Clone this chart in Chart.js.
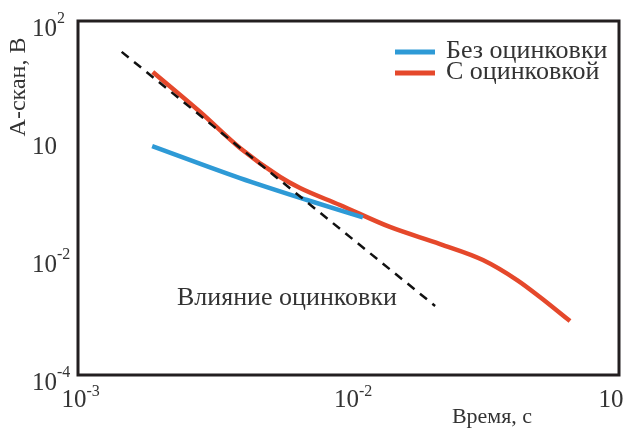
<!DOCTYPE html>
<html>
<head>
<meta charset="utf-8">
<script src="https://cdn.jsdelivr.net/npm/chart.js@4/dist/chart.umd.min.js"></script>
<style>
  html, body { margin: 0; padding: 0; background: #fff; }
  #wrap { width: 625px; height: 429px; position: relative; }
</style>
</head>
<body>
<div id="wrap"><canvas id="c" width="625" height="429"></canvas></div>
<script>
// ---- data ----
const seriesNames = ['Без оцинковки', 'С оцинковкой'];
const blueX = [0.00188, 0.00397, 0.00703, 0.0113];
const blueY = [0.76, 0.218, 0.0925, 0.047];
const redX = [0.00189, 0.00283, 0.00397, 0.00559, 0.00662, 0.0093, 0.01422, 0.0218, 0.0314, 0.042, 0.051, 0.0659];
const redY = [13.7, 2.87, 0.703, 0.227, 0.1476, 0.076, 0.0323, 0.0166, 0.0089, 0.00407, 0.0021, 0.00082];
const dashX = [0.00145, 0.0209];
const dashY = [30, 0.00148];
const dashLabel = 'Влияние оцинковки';
const xTickValues = [0.001, 0.01, 0.1];
const xTickBase = ['10', '10', '10'];
const xTickExp = ['-3', '-2', ''];
const yTickValues = [100, 1, 0.01, 0.0001];
const yTickBase = ['10', '10', '10', '10'];
const yTickExp = ['2', '', '-2', '-4'];
const xTitle = 'Время, с';
const yTitle = 'А-скан, В';

const zip = (xs, ys) => xs.map((v, i) => ({ x: v, y: ys[i] }));
const BLUE = '#2e9ad6';
const RED = '#e5482b';
const TEXT = '#333';
const SERIF = '"Liberation Serif", "DejaVu Serif", serif';

const decor = {
  id: 'decor',
  afterDraw(chart) {
    const { ctx, chartArea: a } = chart;
    const xs = chart.scales.x, ys = chart.scales.y;
    ctx.save();
    // frame
    ctx.strokeStyle = '#231f20';
    ctx.lineWidth = 3;
    ctx.strokeRect(a.left, a.top, a.right - a.left, a.bottom - a.top);

    ctx.fillStyle = TEXT;
    ctx.textBaseline = 'alphabetic';
    // y tick labels
    yTickValues.forEach((v, i) => {
      const py = ys.getPixelForValue(v);
      const xr = a.left - 21;
      ctx.font = '25px ' + SERIF;
      ctx.textAlign = 'right';
      ctx.fillText(yTickBase[i], xr, py + 15);
      if (yTickExp[i]) {
        ctx.font = '16px ' + SERIF;
        ctx.textAlign = 'left';
        ctx.fillText(yTickExp[i], xr, py + 2);
      }
    });
    // x tick labels
    const xOff = [-4, -2, -8];
    xTickValues.forEach((v, i) => {
      const px = xs.getPixelForValue(v) + xOff[i];
      ctx.font = '25px ' + SERIF;
      ctx.textAlign = 'center';
      ctx.fillText(xTickBase[i], px, 407);
      if (xTickExp[i]) {
        const w = ctx.measureText(xTickBase[i]).width;
        ctx.font = '16px ' + SERIF;
        ctx.textAlign = 'left';
        ctx.fillText(xTickExp[i], px + w / 2, 396);
      }
    });
    // axis titles
    ctx.font = '22px ' + SERIF;
    ctx.textAlign = 'center';
    ctx.fillText(xTitle, 492, 423);
    ctx.save();
    ctx.translate(25, 87);
    ctx.rotate(-Math.PI / 2);
    ctx.font = '24px ' + SERIF;
    ctx.fillText(yTitle, 0, 0);
    ctx.restore();
    // annotation
    ctx.textAlign = 'left';
    ctx.font = '26px ' + SERIF;
    ctx.fillText(dashLabel, 177, 305);
    // legend
    const legendColors = [BLUE, RED];
    ctx.font = '26px ' + SERIF;
    seriesNames.forEach((name, i) => {
      const ly = 52 + i * 21;
      ctx.strokeStyle = legendColors[i];
      ctx.lineWidth = 5;
      ctx.beginPath();
      ctx.moveTo(395, ly);
      ctx.lineTo(435, ly);
      ctx.stroke();
      ctx.fillStyle = TEXT;
      ctx.fillText(name, 446, ly + 6);
    });
    ctx.restore();
  }
};

new Chart(document.getElementById('c'), {
  type: 'line',
  data: {
    datasets: [
      {
        label: dashLabel,
        data: zip(dashX, dashY),
        borderColor: '#111',
        borderWidth: 2.5,
        borderDash: [9, 7],
        pointRadius: 0,
        tension: 0
      },
      {
        label: seriesNames[0],
        data: zip(blueX, blueY),
        borderColor: BLUE,
        borderWidth: 4.5,
        pointRadius: 0,
        cubicInterpolationMode: 'monotone'
      },
      {
        label: seriesNames[1],
        data: zip(redX, redY),
        borderColor: RED,
        borderWidth: 4.5,
        pointRadius: 0,
        cubicInterpolationMode: 'monotone'
      }
    ]
  },
  options: {
    responsive: false,
    animation: false,
    layout: { padding: { left: 78, right: 6, top: 21, bottom: 54 } },
    plugins: { legend: { display: false }, tooltip: { enabled: false } },
    scales: {
      x: { type: 'logarithmic', min: 0.001, max: 0.1, display: false },
      y: { type: 'logarithmic', min: 0.0001, max: 100, display: false }
    }
  },
  plugins: [decor]
});
</script>
</body>
</html>
